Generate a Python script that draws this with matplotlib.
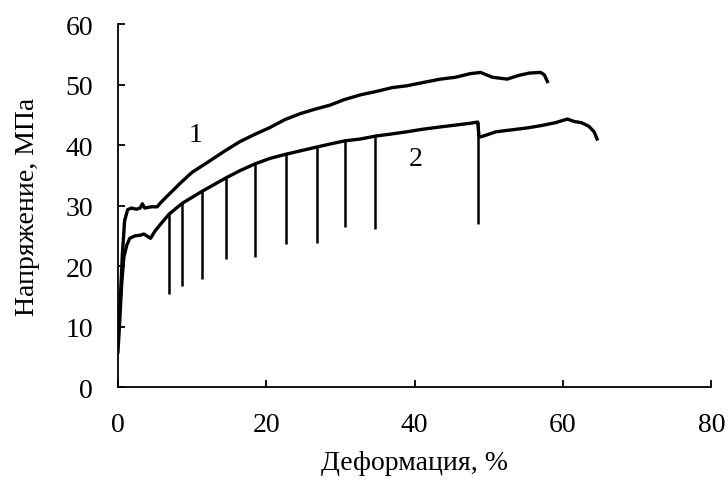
import matplotlib.pyplot as plt

plt.rcParams['font.family'] = ['Liberation Serif', 'DejaVu Serif']

# кривая 1
x1 = [0, 0.3, 0.6, 0.9, 1.3, 1.8, 2.5, 3.0, 3.3, 3.6, 4.5, 5.3, 5.7, 6.5, 7.5, 8.4,
      10, 12.4, 14.5, 16.5, 18.5, 20.5, 22.5, 24.6, 26.5, 28.6, 30.5, 32.7, 35, 37,
      39, 41, 43.5, 45.5, 47.5, 48.9, 50.5, 52.5, 54, 55.5, 57, 57.5, 57.9]
y1 = [7.5, 14, 22, 27.5, 29.3, 29.6, 29.4, 29.6, 30.3, 29.6, 29.8, 29.8, 30.4, 31.4, 32.6, 33.7,
      35.5, 37.4, 39.1, 40.6, 41.8, 42.9, 44.2, 45.2, 45.9, 46.6, 47.5, 48.3, 48.9, 49.5,
      49.8, 50.3, 50.9, 51.2, 51.8, 52.0, 51.2, 50.9, 51.5, 51.9, 52.0, 51.6, 50.5]

# кривая 2 (огибающая)
x2 = [0, 0.2, 0.5, 0.8, 1.2, 1.6, 2.3, 3.0, 3.5, 4.0, 4.4, 5.0, 5.8, 6.9, 8.7, 11.4,
      14.6, 16.5, 18.5, 20.5, 22.7, 24.8, 26.9, 28.7, 30.6, 32.7, 34.8, 36.7, 39, 41,
      43.5, 45.5, 47.5, 48.5, 48.7, 49.3, 51, 53, 55, 57, 59, 60.6, 61.5, 62.5, 63.5,
      64.2, 64.6]
y2 = [5.8, 10, 17, 21.5, 23.5, 24.6, 25.0, 25.1, 25.3, 24.9, 24.6, 25.8, 27.0, 28.6, 30.4, 32.4,
      34.6, 35.8, 36.9, 37.8, 38.5, 39.1, 39.7, 40.2, 40.7, 41.0, 41.5, 41.8, 42.2, 42.6,
      43.0, 43.3, 43.6, 43.8, 41.3, 41.5, 42.2, 42.5, 42.8, 43.2, 43.7, 44.3, 43.9, 43.7, 43.1,
      42.2, 41.0]

# провалы (зубцы) на кривой 2
drop_x = [6.9, 8.7, 11.4, 14.6, 18.5, 22.6, 26.9, 30.6, 34.7, 48.6]
drop_top = [28.7, 30.4, 32.4, 34.6, 36.9, 38.5, 39.7, 40.7, 41.5, 43.8]
drop_min = [15.4, 16.7, 17.9, 21.2, 21.5, 23.6, 23.9, 26.4, 26.1, 26.9]

fig = plt.figure(figsize=(7.28, 4.81), dpi=100)
ax = fig.add_axes([0.162, 0.193, 0.815, 0.755])

ax.plot(x1, y1, color='black', lw=2.4)
ax.plot(x2, y2, color='black', lw=2.4)
ax.vlines(drop_x, drop_min, drop_top, color='black', lw=1.8)

ax.text(10.5, 41.8, '1', fontsize=20, ha='center', va='center')
ax.text(40.2, 37.7, '2', fontsize=20, ha='center', va='center')

ax.set_xlim(0, 80)
ax.set_ylim(0, 60)
ax.set_xticks([0, 20, 40, 60, 80])
ax.set_yticks(range(0, 61, 10))
ax.spines['top'].set_visible(False)
ax.spines['right'].set_visible(False)
for s in ['left', 'bottom']:
    ax.spines[s].set_linewidth(1.3)
ax.tick_params(direction='in', length=5, width=1.3, labelsize=20, pad=18)

ax.set_xlabel('Деформация, %', fontsize=20, labelpad=9)
ax.set_ylabel('Напряжение, МПа', fontsize=20, labelpad=18)

fig.savefig('out.png', dpi=100)
